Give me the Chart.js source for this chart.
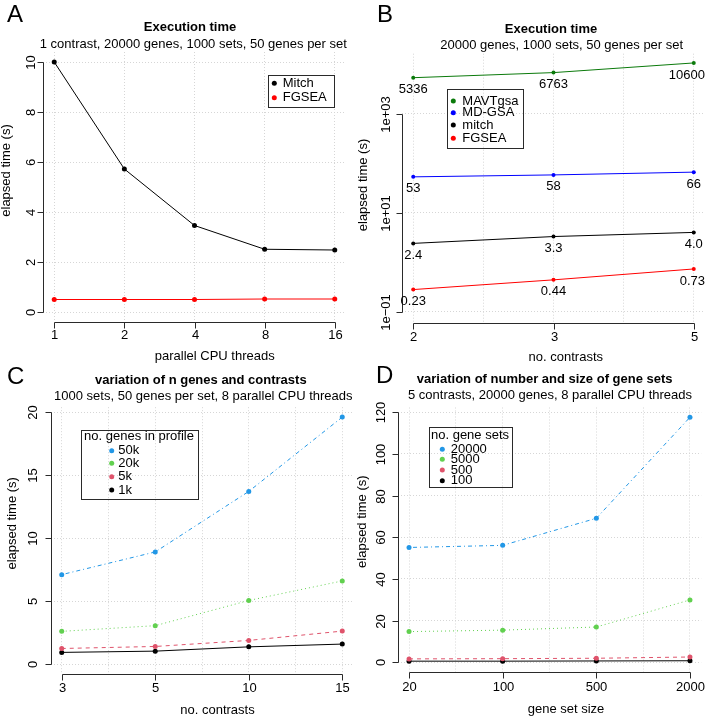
<!DOCTYPE html>
<html>
<head>
<meta charset="utf-8">
<script src="https://cdn.jsdelivr.net/npm/chart.js@4.4.1/dist/chart.umd.min.js"></script>
<style>
  body { margin: 0; background: #fff; }
  #wrap { position: relative; width: 709px; height: 716px; overflow: hidden; }
  canvas { position: absolute; }
</style>
</head>
<body>
<div id="wrap">
  <canvas id="chartA" width="355" height="370" style="left:0;top:0"></canvas>
  <canvas id="chartB" width="354" height="370" style="left:355px;top:0"></canvas>
  <canvas id="chartC" width="355" height="358" style="left:0;top:358px"></canvas>
  <canvas id="chartD" width="354" height="358" style="left:355px;top:358px"></canvas>
</div>
<script>
// A: execution time vs threads
const threads = ['1', '2', '4', '8', '16'];
const mitchA = [10.0, 5.72, 3.46, 2.51, 2.48];
const fgseaA = [0.50, 0.50, 0.50, 0.52, 0.52];

// B: execution time vs contrasts (log scale)
const contrastsB = ['2', '3', '5'];
const mavtgsa = [5336, 6763, 10600];
const mdgsa = [53, 58, 66];
const mitchB = [2.4, 3.3, 4.0];
const fgseaB = [0.28, 0.44, 0.73];
const mavtgsaLbl = ['5336', '6763', '10600'];
const mdgsaLbl = ['53', '58', '66'];
const mitchLbl = ['2.4', '3.3', '4.0'];
const fgseaLbl = ['0.23', '0.44', '0.73'];

// C: n genes and contrasts
const contrastsC = ['3', '5', '10', '15'];
const genes50k = [7.1, 8.9, 13.7, 19.6];
const genes20k = [2.6, 3.05, 5.05, 6.6];
const genes5k = [1.24, 1.40, 1.88, 2.62];
const genes1k = [0.93, 1.03, 1.37, 1.59];

// D: number and size of gene sets
const setSize = ['20', '100', '500', '2000'];
const sets20000 = [55.1, 56.1, 69.1, 117.6];
const sets5000 = [14.7, 15.4, 16.9, 29.9];
const sets500 = [1.6, 1.7, 1.9, 2.5];
const sets100 = [0.5, 0.5, 0.6, 0.7];

const FONT = '"Liberation Sans", Arial, Helvetica, sans-serif';
const BLUE = '#2297E6', GREEN = '#61D04F', PINK = '#DF536B';

const xy = arr => arr.map((v, i) => ({ x: i + 1, y: v }));

function ds(label, arr, color, dash, r) {
    return {
        label: label,
        data: xy(arr),
        borderColor: color,
        backgroundColor: color,
        borderWidth: 1,
        borderDash: dash || [],
        pointRadius: r || 2.5,
        pointBorderWidth: 0,
        pointBackgroundColor: color,
        tension: 0,
    };
}

function halfSteps(n) {
    const out = [];
    for (let v = 1; v <= n; v += 0.5) out.push(v);
    return out;
}

// draws the R style bits: detached axes, rotated labels, titles, legend box
function decor(p) {
    return {
        id: 'decor',
        afterDraw(chart) {
            const ctx = chart.ctx, xs = chart.scales.x, ys = chart.scales.y, a = chart.chartArea;
            const line = (x0, y0, x1, y1) => {
                ctx.beginPath(); ctx.moveTo(x0, y0); ctx.lineTo(x1, y1); ctx.stroke();
            };
            ctx.save();
            ctx.fillStyle = '#000';
            ctx.strokeStyle = '#2a2a2a';
            ctx.lineWidth = 1;

            ctx.font = '24px ' + FONT;
            ctx.textAlign = 'left';
            ctx.textBaseline = 'alphabetic';
            ctx.fillText(p.letter[0], p.letter[1], p.letter[2]);

            ctx.textAlign = 'center';
            ctx.textBaseline = 'middle';
            ctx.font = 'bold 13px ' + FONT;
            ctx.fillText(p.title[0], p.title[1], p.title[2]);
            ctx.font = '13px ' + FONT;
            ctx.fillText(p.sub[0], p.sub[1], p.sub[2]);

            // x axis
            const yb = Math.round(a.bottom) + 0.5;
            const xa = Math.round(xs.getPixelForValue(1)) + 0.5;
            const xb = Math.round(xs.getPixelForValue(p.xlabels.length)) + 0.5;
            line(xa, yb, xb, yb);
            p.xlabels.forEach((t, i) => {
                const px = Math.round(xs.getPixelForValue(i + 1)) + 0.5;
                line(px, yb, px, yb + 6);
                ctx.fillText(t, px, p.xtickY);
            });
            ctx.fillText(p.xlab[0], p.xlab[1], p.xlab[2]);

            // y axis
            const xl = Math.round(a.left) + 0.5;
            const ya = Math.round(ys.getPixelForValue(p.yticks[0])) + 0.5;
            const yt = Math.round(ys.getPixelForValue(p.yticks[p.yticks.length - 1])) + 0.5;
            line(xl, ya, xl, yt);
            p.yticks.forEach((v, i) => {
                const py = Math.round(ys.getPixelForValue(v)) + 0.5;
                line(xl, py, xl - 6, py);
                ctx.save();
                ctx.translate(p.ytickX, py);
                ctx.rotate(-Math.PI / 2);
                ctx.fillText(p.ylabels[i], 0, 0);
                ctx.restore();
            });
            ctx.save();
            ctx.translate(p.ylab[1], p.ylab[2]);
            ctx.rotate(-Math.PI / 2);
            ctx.fillText(p.ylab[0], 0, 0);
            ctx.restore();

            // value labels under the points, kept inside the panel
            (p.pointLabels || []).forEach((texts, i) => {
                chart.getDatasetMeta(i).data.forEach((pt, j) => {
                    const half = ctx.measureText(texts[j]).width / 2;
                    const lx = Math.min(pt.x, chart.width - 4 - half);
                    ctx.fillText(texts[j], lx, pt.y + 12);
                });
            });

            // legend
            const L = p.legend;
            ctx.strokeRect(Math.round(L.box[0]) + 0.5, Math.round(L.box[1]) + 0.5,
                Math.round(L.box[2] - L.box[0]), Math.round(L.box[3] - L.box[1]));
            if (L.title) ctx.fillText(L.title[0], L.title[1], L.title[2]);
            ctx.textAlign = 'left';
            chart.data.datasets.forEach((d, i) => {
                const ly = L.rows[i];
                ctx.fillStyle = d.borderColor;
                ctx.beginPath();
                ctx.arc(L.dotX, ly, 2.5, 0, Math.PI * 2);
                ctx.fill();
                ctx.fillStyle = '#000';
                ctx.fillText(d.label, L.textX, ly);
            });
            ctx.restore();
        }
    };
}

function makeChart(id, p) {
    const cv = document.getElementById(id);
    const W = cv.width, H = cv.height;
    return new Chart(cv.getContext('2d'), {
        type: 'line',
        data: { datasets: p.datasets },
        options: {
            responsive: false,
            animation: false,
            events: [],
            layout: { autoPadding: false, padding: { left: 0, top: p.area.t, right: W - p.area.r, bottom: 0 } },
            plugins: { legend: { display: false }, tooltip: { enabled: false } },
            scales: {
                x: {
                    type: 'linear',
                    min: p.xmin, max: p.xmax,
                    afterBuildTicks: s => { s.ticks = p.xgrid.map(v => ({ value: v })); },
                    afterFit: s => { s.height = H - p.area.b; },
                    ticks: { display: false },
                    grid: { color: '#d6d6d6', drawTicks: false },
                    border: { display: false, dash: [1, 2] },
                },
                y: {
                    type: p.ylog ? 'logarithmic' : 'linear',
                    min: p.ymin, max: p.ymax,
                    afterBuildTicks: s => { s.ticks = p.yticks.map(v => ({ value: v })); },
                    afterFit: s => { s.width = p.area.l; },
                    ticks: { display: false },
                    grid: { color: '#d6d6d6', drawTicks: false },
                    border: { display: false, dash: [1, 2] },
                }
            }
        },
        plugins: [decor(p)]
    });
}

const chartA = makeChart('chartA', {
    datasets: [ds('Mitch', mitchA, '#000000'), ds('FGSEA', fgseaA, '#FF0000')],
    area: { l: 43, r: 346, t: 52, b: 322 },
    xmin: 0.84, xmax: 5.16, xgrid: [1, 2, 3, 4, 5], xlabels: threads,
    ymin: -0.4, ymax: 10.4, yticks: [0, 2, 4, 6, 8, 10], ylabels: ['0', '2', '4', '6', '8', '10'],
    letter: ['A', 7, 22],
    title: ['Execution time', 190, 27],
    sub: ['1 contrast, 20000 genes, 1000 sets, 50 genes per set', 193.3, 44],
    xtickY: 335.5, xlab: ['parallel CPU threads', 214.7, 356.5],
    ytickX: 31.5, ylab: ['elapsed time (s)', 6, 170.5],
    legend: { box: [267.7, 75.3, 333.3, 107.3], rows: [83.3, 97.7], dotX: 274.3, textX: 282.7 },
});

const chartB = makeChart('chartB', {
    datasets: [
        ds('MAVTgsa', mavtgsa, '#0B7A0B', [], 2),
        ds('MD-GSA', mdgsa, '#0000FF', [], 2),
        ds('mitch', mitchB, '#000000', [], 2),
        ds('FGSEA', fgseaB, '#FF0000', [], 2),
    ],
    pointLabels: [mavtgsaLbl, mdgsaLbl, mitchLbl, fgseaLbl],
    ylog: true,
    area: { l: 47, r: 350, t: 53.7, b: 323.3 },
    xmin: 0.92, xmax: 3.08, xgrid: halfSteps(3), xlabels: contrastsB,
    ymin: 0.0583, ymax: 16293, yticks: [0.1, 10, 1000], ylabels: ['1e\u221201', '1e+01', '1e+03'],
    letter: ['B', 22, 22],
    title: ['Execution time', 196, 29],
    sub: ['20000 genes, 1000 sets, 50 genes per set', 206.7, 45],
    xtickY: 337, xlab: ['no. contrasts', 210.8, 357],
    ytickX: 31.7, ylab: ['elapsed time (s)', 8, 185],
    legend: { box: [91.7, 89.3, 167.3, 148.3], rows: [101, 112.7, 125, 138.3], dotX: 98.3, textX: 107.3 },
});

const chartC = makeChart('chartC', {
    datasets: [
        ds('50k', genes50k, BLUE, [1, 3, 4, 3]),
        ds('20k', genes20k, GREEN, [1, 3]),
        ds('5k', genes5k, PINK, [4, 4]),
        ds('1k', genes1k, '#000000'),
    ],
    area: { l: 50.5, r: 353.5, t: 49.2, b: 316 },
    xmin: 0.88, xmax: 4.12, xgrid: halfSteps(4), xlabels: contrastsC,
    ymin: -0.784, ymax: 20.384, yticks: [0, 5, 10, 15, 20], ylabels: ['0', '5', '10', '15', '20'],
    letter: ['C', 7, 26.3],
    title: ['variation of n genes and contrasts', 200.8, 22],
    sub: ['1000 sets, 50 genes per set, 8 parallel CPU threads', 203.3, 38.7],
    xtickY: 330.3, xlab: ['no. contrasts', 217.5, 352],
    ytickX: 33, ylab: ['elapsed time (s)', 12, 165.3],
    legend: {
        box: [81, 71.7, 197.7, 141], title: ['no. genes in profile', 139, 78],
        rows: [92.7, 105.3, 118.7, 132], dotX: 111.7, textX: 118.3
    },
});

const chartD = makeChart('chartD', {
    datasets: [
        ds('20000', sets20000, BLUE, [1, 3, 4, 3]),
        ds('5000', sets5000, GREEN, [1, 3]),
        ds('500', sets500, PINK, [4, 4]),
        ds('100', sets100, '#000000'),
    ],
    area: { l: 42.8, r: 346.2, t: 49.5, b: 314 },
    xmin: 0.88, xmax: 4.12, xgrid: halfSteps(4), xlabels: setSize,
    ymin: -4.7, ymax: 122.3, yticks: [0, 20, 40, 60, 80, 100, 120], ylabels: ['0', '20', '40', '60', '80', '100', '120'],
    letter: ['D', 21, 25.3],
    title: ['variation of number and size of gene sets', 189.7, 21],
    sub: ['5 contrasts, 20000 genes, 8 parallel CPU threads', 195, 37],
    xtickY: 329.7, xlab: ['gene set size', 211, 351],
    ytickX: 26.7, ylab: ['elapsed time (s)', 7, 163.7],
    legend: {
        box: [74, 69.3, 157.3, 129.7], title: ['no. gene sets', 115, 77],
        rows: [91.3, 101.3, 112, 122.7], dotX: 87.3, textX: 95.7
    },
});
</script>
</body>
</html>
